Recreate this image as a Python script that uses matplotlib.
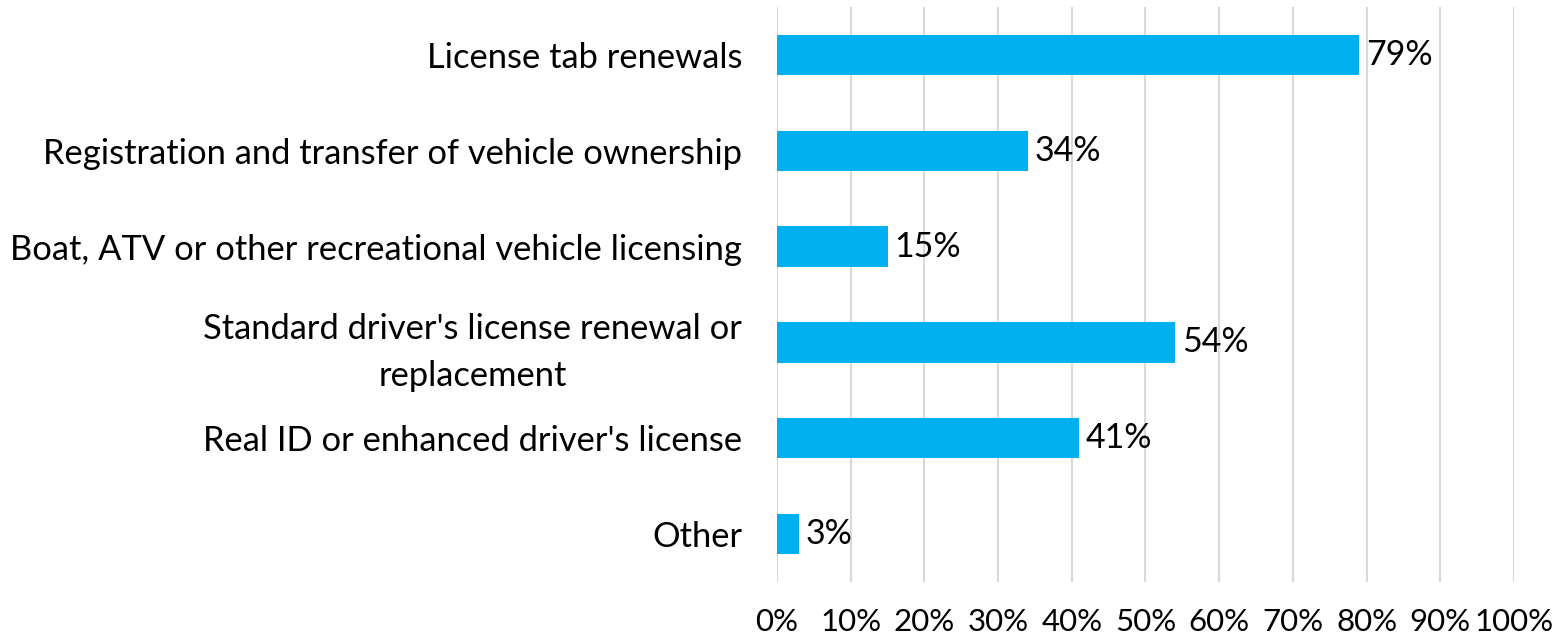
import matplotlib.pyplot as plt
from matplotlib.ticker import MultipleLocator, PercentFormatter

categories = [
    "License tab renewals",
    "Registration and transfer of vehicle ownership",
    "Boat, ATV or other recreational vehicle licensing",
    "Standard driver's license renewal or\nreplacement",
    "Real ID or enhanced driver's license",
    "Other",
]
values = [79, 34, 15, 54, 41, 3]

BAR_COLOR = "#00B0F0"
plt.rcParams["font.family"] = ["Lato", "DejaVu Sans"]

fig = plt.figure(figsize=(15.57, 6.37), dpi=100)
ax = fig.add_axes([0.499, 0.0863, 0.4734, 0.9027])

y = list(range(len(categories)))
bars = ax.barh(y, values, height=0.42, color=BAR_COLOR, zorder=3)
for bar, v in zip(bars, values):
    ax.annotate(f"{v}%", xy=(bar.get_width(), bar.get_y() + bar.get_height() / 2),
                xytext=(5, 0), textcoords="offset points", ha="left", va="center",
                fontsize=24.5, color="black", zorder=4)

ax.set_xlim(0, 100)
ax.set_ylim(len(categories) - 0.5, -0.5)
ax.set_yticks(y)
ax.set_yticklabels(categories, fontsize=24.8)
ax.xaxis.set_major_locator(MultipleLocator(10))
ax.xaxis.set_major_formatter(PercentFormatter(decimals=0))
ax.tick_params(axis="x", labelsize=22.5, length=0, pad=19)
ax.tick_params(axis="y", length=0, pad=25)
for lbl in ax.get_yticklabels():
    lbl.set_multialignment("center")
    lbl.set_linespacing(1.55)

ax.grid(axis="x", color="#D9D9D9", linewidth=1.5, zorder=0)
for side in ["top", "right", "bottom", "left"]:
    ax.spines[side].set_visible(False)

fig.savefig("out.png", dpi=100)
